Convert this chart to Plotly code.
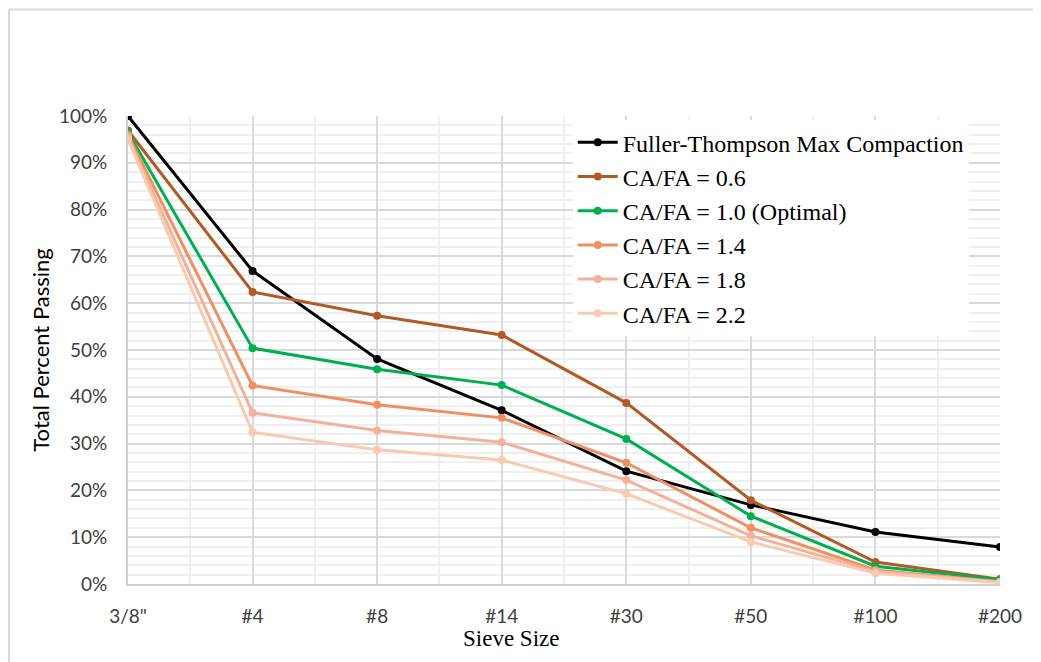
import plotly.graph_objects as go

sieves = ['3/8"', "#4", "#8", "#14", "#30", "#50", "#100", "#200"]
fuller = [100, 66.9, 48.1, 37.1, 24.1, 16.9, 11.1, 7.9]
cafa_06 = [96.9, 62.4, 57.3, 53.2, 38.7, 17.9, 4.7, 1.0]
cafa_10 = [96.5, 50.4, 45.9, 42.5, 31.0, 14.5, 3.8, 0.9]
cafa_14 = [96.0, 42.4, 38.3, 35.5, 25.9, 12.0, 3.0, 0.5]
cafa_18 = [95.5, 36.6, 32.8, 30.3, 22.2, 10.3, 2.7, 0.4]
cafa_22 = [95.0, 32.4, 28.7, 26.5, 19.3, 9.0, 2.3, 0.3]

names = ["Fuller-Thompson Max Compaction", "CA/FA = 0.6", "CA/FA = 1.0 (Optimal)",
         "CA/FA = 1.4", "CA/FA = 1.8", "CA/FA = 2.2"]
series = [fuller, cafa_06, cafa_10, cafa_14, cafa_18, cafa_22]
colors = ["#000000", "#b15a25", "#00b050", "#f08f62", "#f3b09a", "#f8cbb0"]

xpos = list(range(len(sieves)))

fig = go.Figure()
for nm, ys, c in zip(names, series, colors):
    fig.add_trace(go.Scatter(
        x=xpos, y=ys, name=nm, mode="lines+markers",
        line=dict(color=c, width=3),
        marker=dict(color=c, size=8),
    ))

# plot area in page pixels: left 128, right 1000, top 116, bottom 584 (page has 8px body margin)
fig.update_layout(
    width=1033, height=654,
    margin=dict(l=120, r=41, t=108, b=78),
    paper_bgcolor="white", plot_bgcolor="white",
    showlegend=True,
    legend=dict(
        x=0.510, y=0.991, xanchor="left", yanchor="top",
        bgcolor="white", borderwidth=0,
        font=dict(family="Liberation Serif", size=24, color="#000000"),
        traceorder="normal",
        itemwidth=40,
    ),
    xaxis=dict(
        range=[0, 7], tickmode="array", tickvals=xpos, ticktext=sieves,
        showgrid=True, gridcolor="#d9d9d9", gridwidth=1.5,
        minor=dict(dtick=0.5, tick0=0, showgrid=True, gridcolor="#efefef", gridwidth=1.5),
        showline=True, linecolor="#d0d0d0", linewidth=2,
        tickfont=dict(family="Lato", size=19, color="#404040"),
        ticklabelstandoff=14,
        zeroline=False,
    ),
    yaxis=dict(
        range=[0, 100], tickmode="linear", dtick=10, tick0=0,
        ticksuffix="%",
        showgrid=True, gridcolor="#d9d9d9", gridwidth=1.5,
        minor=dict(dtick=2, tick0=0, showgrid=True, gridcolor="#efefef", gridwidth=1.5),
        showline=True, linecolor="#d0d0d0", linewidth=2,
        tickfont=dict(family="Lato", size=19, color="#404040"),
        ticklabelstandoff=15,
        zeroline=False,
        title=dict(text="Total Percent Passing", font=dict(family="Lato", size=22, color="#000000"), standoff=3),
    ),
    annotations=[
        dict(text="Sieve Size", xref="paper", yref="paper",
             x=(511 - 128) / 872, y=(584 - 638) / 468,
             xanchor="center", yanchor="middle", showarrow=False,
             font=dict(family="Liberation Serif", size=23, color="#000000")),
    ],
    shapes=[
        dict(type="line", xref="paper", yref="paper",
             x0=(9 - 128) / 872, x1=(1045 - 128) / 872,
             y0=(584 - 9.5) / 468, y1=(584 - 9.5) / 468,
             line=dict(color="#d9d9d9", width=2)),
        dict(type="line", xref="paper", yref="paper",
             x0=(9 - 128) / 872, x1=(9 - 128) / 872,
             y0=(584 - 9.5) / 468, y1=(584 - 665) / 468,
             line=dict(color="#d9d9d9", width=2)),
    ],
)

fig.write_html("out.html")
